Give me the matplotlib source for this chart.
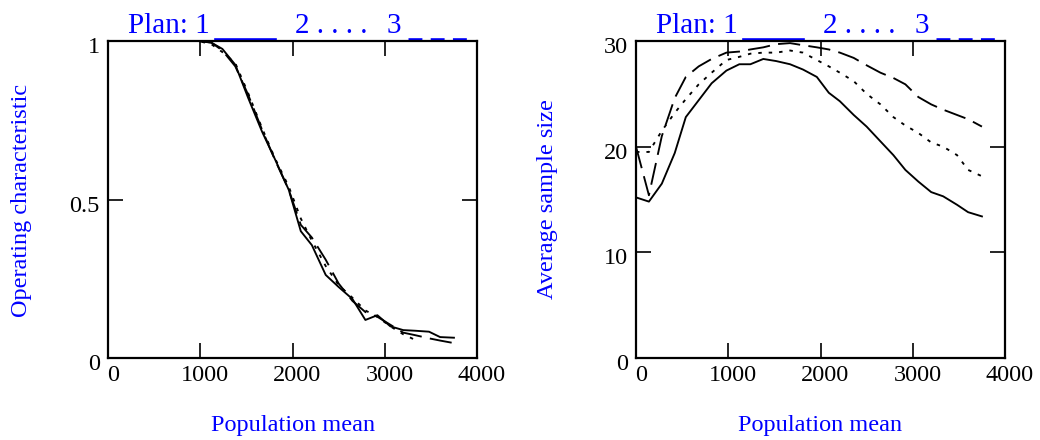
import matplotlib
matplotlib.use('Agg')
import matplotlib.pyplot as plt
import matplotlib.transforms as mtransforms
from matplotlib.lines import Line2D

plt.rcParams['font.family'] = ['Liberation Serif', 'DejaVu Serif']
plt.rcParams['lines.scale_dashes'] = False

# population mean grid
x_mean = [0, 140, 280, 420, 540, 680, 820, 980, 1120, 1240, 1380, 1520, 1670, 1810,
          1960, 2090, 2210, 2360, 2500, 2650, 2790, 2920, 3060, 3200, 3330, 3480, 3600, 3750]

# operating characteristic
oc_plan1 = [1, 1, 1, 1, 1, 1, 1, 1.0, 0.995, 0.975, 0.925, 0.82, 0.714, 0.627,
            0.53, 0.40, 0.356, 0.262, 0.224, 0.186, 0.12, 0.135, 0.10, 0.088, 0.086, 0.083, 0.066, 0.064]
oc_plan2 = [1, 1, 1, 1, 1, 1, 1, 1.0, 0.99, 0.965, 0.93, 0.835, 0.725, 0.63,
            0.54, 0.44, 0.37, 0.29, 0.23, 0.19, 0.15, 0.13, 0.10, 0.075, 0.057]
oc_plan3 = [1, 1, 1, 1, 1, 1, 1, 1.0, 0.995, 0.97, 0.92, 0.83, 0.72, 0.625,
            0.53, 0.42, 0.38, 0.31, 0.235, 0.18, 0.145, 0.13, 0.105, 0.08, 0.072, 0.062, 0.055, 0.047]

# average sample size
asn_plan1 = [15.2, 14.8, 16.5, 19.4, 22.8, 24.4, 26.0, 27.2, 27.8, 27.8, 28.3, 28.1, 27.8, 27.3,
             26.6, 25.1, 24.3, 23.0, 21.9, 20.5, 19.2, 17.8, 16.7, 15.7, 15.3, 14.5, 13.8, 13.4]
asn_plan2 = [19.5, 19.5, 21.5, 23.2, 24.5, 25.9, 27.0, 28.2, 28.5, 28.8, 28.9, 28.9, 29.1, 28.9,
             28.2, 27.6, 27.0, 26.2, 25.0, 24.0, 22.8, 22.0, 21.3, 20.4, 20.0, 19.2, 17.8, 17.2]
asn_plan3 = [20.0, 15.4, 21.0, 24.6, 26.6, 27.6, 28.3, 28.9, 29.0, 29.2, 29.4, 29.7, 29.8, 29.6,
             29.4, 29.2, 28.9, 28.4, 27.7, 27.0, 26.5, 25.9, 24.7, 24.0, 23.5, 23.0, 22.6, 21.9]

x_ticks = [0, 1000, 2000, 3000, 4000]
blue = '#0000ff'
fs = 17.5

fig = plt.figure(figsize=(10.4, 4.4), dpi=100)
ax1 = fig.add_axes([108 / 1040, 1 - 358 / 440, 369 / 1040, 317 / 440])
ax2 = fig.add_axes([636 / 1040, 1 - 358 / 440, 369 / 1040, 317 / 440])

lw = 1.35
dotted = (2.5, 5)
dashed = (16, 6)
ax1.plot(x_mean, oc_plan1, color='black', lw=lw)
ax1.plot(x_mean[:len(oc_plan2)], oc_plan2, color='black', lw=lw, dashes=dotted)
ax1.plot(x_mean, oc_plan3, color='black', lw=lw, dashes=dashed)
ax1.set_ylim(0, 1)
ax1.set_yticks([0, 0.5, 1])
ax1.set_yticklabels(['0', '0.5', '1'])

ax2.plot(x_mean, asn_plan1, color='black', lw=lw)
ax2.plot(x_mean, asn_plan2, color='black', lw=lw, dashes=dotted)
ax2.plot(x_mean, asn_plan3, color='black', lw=lw, dashes=dashed)
ax2.set_ylim(0, 30)
ax2.set_yticks([0, 10, 20, 30])

dx = mtransforms.ScaledTranslation(5 / 100, 0, fig.dpi_scale_trans)
dy = mtransforms.ScaledTranslation(0, -4 / 100, fig.dpi_scale_trans)

for ax in (ax1, ax2):
    ax.set_xlim(0, 4000)
    ax.set_xticks(x_ticks)
    for s in ax.spines.values():
        s.set_linewidth(1.6)
    ax.tick_params(direction='in', length=10.8, width=1.2, top=True, right=True,
                   labelsize=fs, pad=5)
    ax.tick_params(axis='y', pad=6)
    for lab in ax.get_xticklabels():
        lab.set_transform(lab.get_transform() + dx)
    for lab in ax.get_yticklabels():
        lab.set_transform(lab.get_transform() + dy)

    # plan legend above the plot
    w = 369.0
    ax.text(20 / w, 1.025, 'Plan: 1', transform=ax.transAxes, color=blue,
            fontsize=21, va='baseline', ha='left')
    ax.text(187 / w, 1.025, '2 . . . .', transform=ax.transAxes, color=blue,
            fontsize=21, va='baseline', ha='left')
    ax.text(279 / w, 1.025, '3', transform=ax.transAxes, color=blue,
            fontsize=21, va='baseline', ha='left')
    ax.add_line(Line2D([107 / w, 167 / w], [1.006, 1.006], transform=ax.transAxes,
                       color=blue, lw=1.9, clip_on=False))
    ax.add_line(Line2D([300 / w, 360 / w], [1.006, 1.006], transform=ax.transAxes,
                       color=blue, lw=1.9, dashes=(10, 6), clip_on=False))

fig.text(293 / 1040, 1 - 425 / 440, 'Population mean', color=blue, fontsize=fs,
         ha='center', va='center')
fig.text(820 / 1040, 1 - 425 / 440, 'Population mean', color=blue, fontsize=fs,
         ha='center', va='center')
fig.text(22 / 1040, 1 - 200 / 440, 'Operating characteristic', color=blue, fontsize=fs,
         ha='center', va='center', rotation=90)
fig.text(548 / 1040, 1 - 199 / 440, 'Average sample size', color=blue, fontsize=fs,
         ha='center', va='center', rotation=90)

plt.savefig('out.png', dpi=100)
